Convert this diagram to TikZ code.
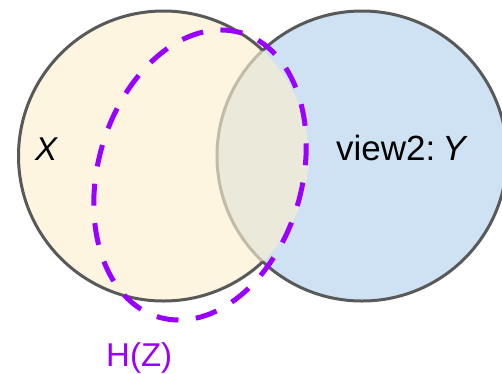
\documentclass[tikz,border=0pt]{standalone}
\usepackage{fontspec}
\setmainfont{Liberation Sans}
\definecolor{yel}{HTML}{FEF5E0}
\definecolor{blu}{HTML}{CFE2F3}
\definecolor{mid}{HTML}{EAE9DA}
\definecolor{edge}{HTML}{595959}
\definecolor{ledge}{HTML}{C2BBA8}
\definecolor{purp}{HTML}{9900FF}
\tikzset{
  outline/.style={draw=edge, line width=3pt},
  inline/.style={draw=ledge, line width=3pt},
  hz/.style={draw=purp, line width=5pt, dash pattern=on 22pt off 17.5pt, dash phase=19pt},
  lbl/.style={anchor=base west, inner sep=0pt, font=\fontsize{35}{40}\selectfont}
}
\begin{document}
\begin{tikzpicture}[x=1pt,y=-1pt]
\useasboundingbox (0,0) rectangle (502,373);
\clip (0,0) rectangle (502,373);
\coordinate (cx) at (163.5,156);
\coordinate (cy) at (362,156);
\coordinate (ch) at (200,175);
% fills
\fill[yel] (cx) circle[radius=145];
\fill[blu] (cy) circle[radius=145];
\begin{scope}
  \clip (cx) circle[radius=145];
  \fill[mid] (cy) circle[radius=145];
  \draw[inline] (cy) circle[radius=145];
\end{scope}
% left outline outside right circle
\begin{scope}[even odd rule]
  \clip (-20,-20) rectangle (540,400) (cy) circle[radius=145];
  \draw[outline] (cx) circle[radius=145];
\end{scope}
% right outline outside left circle
\begin{scope}[even odd rule]
  \clip (-20,-20) rectangle (540,400) (cx) circle[radius=145];
  \draw[outline] (cy) circle[radius=145];
\end{scope}
% H(Z) ellipse
\draw[hz, rotate around={-16:(ch)}] (ch) ellipse [x radius=102, y radius=148];
% labels
\node[lbl, font=\fontsize{33}{38}\selectfont] (xl) at (35,160) {\textit{X}};
\node[lbl] (yl) at (336,160) {view2:\kern7pt\textit{Y}};
\node[lbl, text=purp, font=\fontsize{33}{38}\selectfont] (hl) at (106,366) {H(Z)};
\end{tikzpicture}
\end{document}
